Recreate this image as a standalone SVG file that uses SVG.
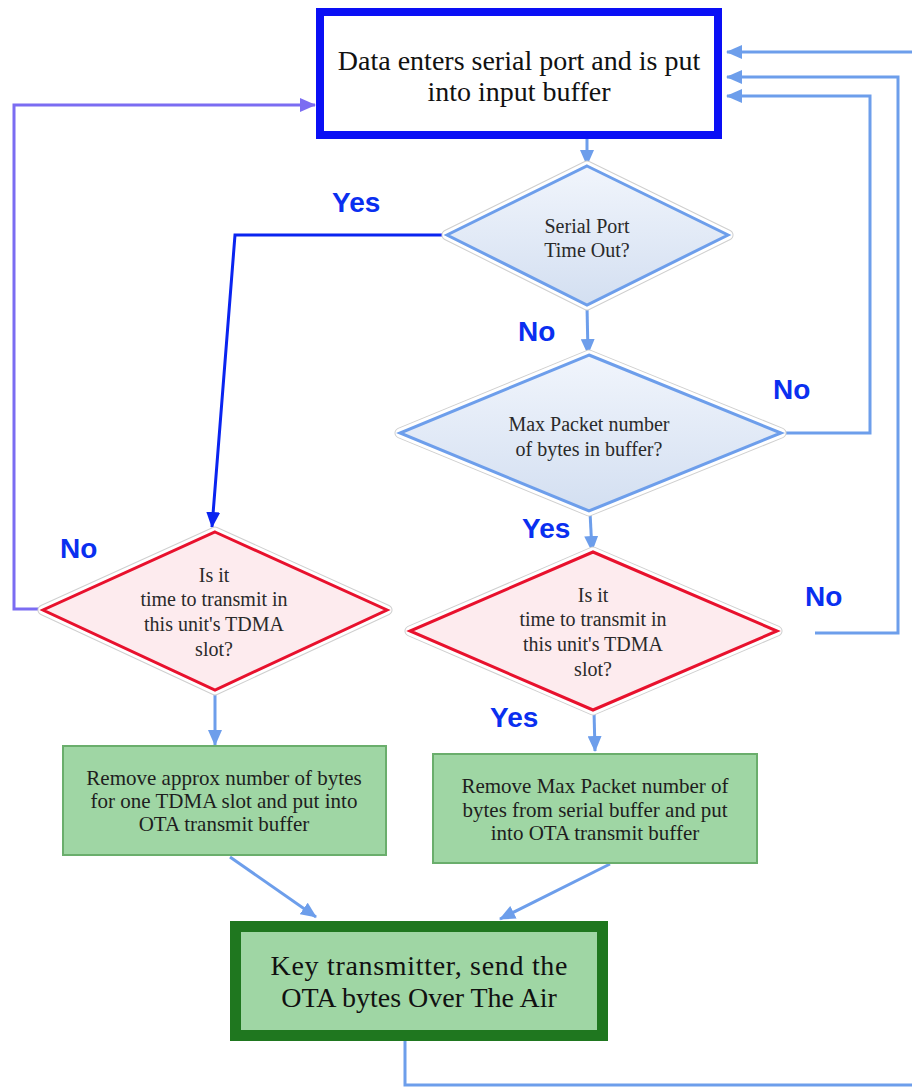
<svg xmlns="http://www.w3.org/2000/svg" width="912" height="1087" viewBox="0 0 912 1087">
<defs>
<style>
.lb{fill:none;stroke:#6d9eeb;stroke-width:3}
.bl{fill:none;stroke:#0a24f0;stroke-width:3}
.pu{fill:none;stroke:#7b6cf2;stroke-width:3}
.halo1{fill:none;stroke:#cfcfcf;stroke-width:11;stroke-linejoin:round}
.halo2{fill:none;stroke:#ffffff;stroke-width:9;stroke-linejoin:round}
.dblue{fill:url(#gb);stroke:#6d9eeb;stroke-width:3}
.dred{fill:#fdebee;stroke:#e8112d;stroke-width:3}
.dt{font-family:"Liberation Serif",serif;font-size:20px;fill:#2a2a2a;text-anchor:middle}
.gt{font-family:"Liberation Serif",serif;font-size:21px;fill:#1e1e1e;text-anchor:middle}
.bt{font-family:"Liberation Serif",serif;font-size:28px;fill:#111;text-anchor:middle}
.lab{font-family:"Liberation Sans",sans-serif;font-weight:bold;font-size:28px;fill:#0a2ff0}
.green{fill:#9fd6a4;stroke:#6aae6c;stroke-width:2}
</style>
<linearGradient id="gb" x1="0" y1="0" x2="0" y2="1">
<stop offset="0" stop-color="#f1f5fc"/>
<stop offset="1" stop-color="#d3dff1"/>
</linearGradient>
<marker id="alb" markerUnits="userSpaceOnUse" markerWidth="16" markerHeight="14" refX="15" refY="7" orient="auto">
<path d="M0,0 L16,7 L0,14 z" fill="#6d9eeb"/>
</marker>
<marker id="abl" markerUnits="userSpaceOnUse" markerWidth="16" markerHeight="14" refX="15" refY="7" orient="auto">
<path d="M0,0 L16,7 L0,14 z" fill="#0a24f0"/>
</marker>
<marker id="apu" markerUnits="userSpaceOnUse" markerWidth="16" markerHeight="14" refX="15" refY="7" orient="auto">
<path d="M0,0 L16,7 L0,14 z" fill="#7b6cf2"/>
</marker>
</defs>
<rect width="912" height="1087" fill="#ffffff"/>

<g id="connectors">
<path class="lb" d="M587,139 L587,165" marker-end="url(#alb)"/>
<path class="lb" d="M587,306 L588,354" marker-end="url(#alb)"/>
<path class="bl" d="M447,235 L235,235 L212,527" marker-end="url(#abl)"/>
<path class="lb" d="M782,433 L870,433 L870,96 L727,96" marker-end="url(#alb)"/>
<path class="lb" d="M590,512 L592,551" marker-end="url(#alb)"/>
<path class="lb" d="M815,633 L898,633 L898,77 L727,77" marker-end="url(#alb)"/>
<path class="lb" d="M914,52 L727,52" marker-end="url(#alb)"/>
<path class="pu" d="M43,609 L14,609 L14,105 L315,105" marker-end="url(#apu)"/>
<path class="lb" d="M215,691 L215,745" marker-end="url(#alb)"/>
<path class="lb" d="M594,711 L595,751" marker-end="url(#alb)"/>
<path class="lb" d="M230,857 L316,917" marker-end="url(#alb)"/>
<path class="lb" d="M610,864 L500,919" marker-end="url(#alb)"/>
<path class="lb" d="M405,1041 L405,1085 L912,1085"/>
</g>

<g id="labels">
<text class="lab" x="332" y="212">Yes</text>
<text class="lab" x="518" y="341">No</text>
<text class="lab" x="773" y="399">No</text>
<text class="lab" x="522" y="538">Yes</text>
<text class="lab" x="60" y="558">No</text>
<text class="lab" x="805" y="606">No</text>
<text class="lab" x="490" y="727">Yes</text>
</g>

<g id="n-input">
<rect x="320" y="12" width="398" height="123" fill="#ffffff" stroke="#0a0ff5" stroke-width="8"/>
<text class="bt" x="519" y="70">Data enters serial port and is put</text>
<text class="bt" x="519" y="101">into input buffer</text>
</g>

<g id="n-serial">
<polygon class="halo1" points="587,166 728,235 587,305 447,235"/>
<polygon class="halo2" points="587,166 728,235 587,305 447,235"/>
<polygon class="dblue" points="587,166 728,235 587,305 447,235"/>
<text class="dt" x="587" y="233">Serial Port</text>
<text class="dt" x="587" y="257">Time Out?</text>
</g>

<g id="n-max">
<polygon class="halo1" points="589,355 781,433 589,511 400,433"/>
<polygon class="halo2" points="589,355 781,433 589,511 400,433"/>
<polygon class="dblue" points="589,355 781,433 589,511 400,433"/>
<text class="dt" x="589" y="431">Max Packet number</text>
<text class="dt" x="589" y="456">of bytes in buffer?</text>
</g>

<g id="n-tdma-left">
<polygon class="halo1" points="215,532 387,610 215,690 43,610"/>
<polygon class="halo2" points="215,532 387,610 215,690 43,610"/>
<polygon class="dred" points="215,532 387,610 215,690 43,610"/>
<text class="dt" x="214" y="582">Is it</text>
<text class="dt" x="214" y="606">time to transmit in</text>
<text class="dt" x="214" y="631">this unit's TDMA</text>
<text class="dt" x="214" y="656">slot?</text>
</g>

<g id="n-tdma-right">
<polygon class="halo1" points="593,552 777,631 593,710 410,631"/>
<polygon class="halo2" points="593,552 777,631 593,710 410,631"/>
<polygon class="dred" points="593,552 777,631 593,710 410,631"/>
<text class="dt" x="593" y="602">Is it</text>
<text class="dt" x="593" y="626">time to transmit in</text>
<text class="dt" x="593" y="651">this unit's TDMA</text>
<text class="dt" x="593" y="676">slot?</text>
</g>

<g id="n-remove-approx">
<rect class="green" x="63" y="746" width="323" height="109"/>
<text class="gt" x="224" y="785">Remove approx number of bytes</text>
<text class="gt" x="224" y="808">for one TDMA slot and put into</text>
<text class="gt" x="224" y="831">OTA transmit buffer</text>
</g>

<g id="n-remove-max">
<rect class="green" x="433" y="754" width="324" height="109"/>
<text class="gt" x="595" y="793">Remove Max Packet number of</text>
<text class="gt" x="595" y="817">bytes from serial buffer and put</text>
<text class="gt" x="595" y="840">into OTA transmit buffer</text>
</g>

<g id="n-key">
<rect x="235.5" y="926.5" width="367" height="109" fill="#9fd6a4" stroke="#1f771f" stroke-width="11"/>
<text class="bt" x="419" y="975" textLength="297" lengthAdjust="spacing">Key transmitter, send the</text>
<text class="bt" x="419" y="1007">OTA bytes Over The Air</text>
</g>
</svg>
